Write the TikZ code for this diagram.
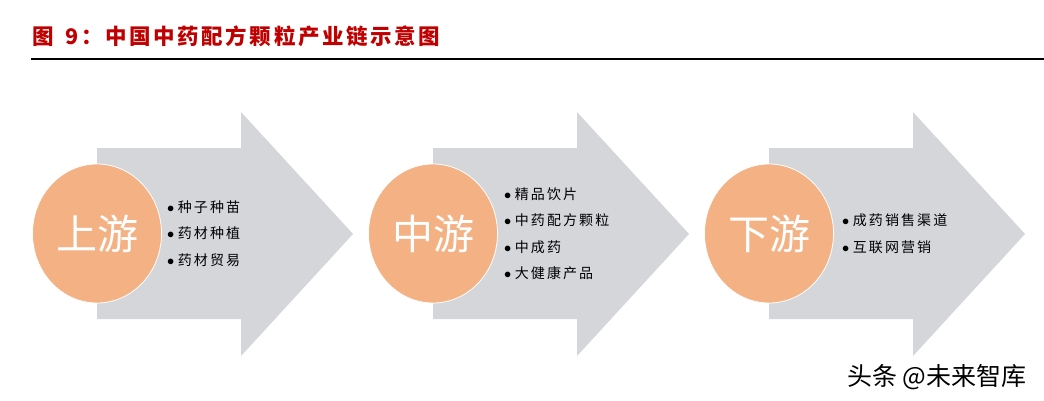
\documentclass[tikz,border=0pt]{standalone}
\usepackage{fontspec}
\usepackage{tikz}
\usetikzlibrary{
positioning,
shapes.geometric
}
\newfontfamily\cjk{Noto Sans CJK SC}
\newfontfamily\cjklist{Noto Sans CJK SC}[LetterSpace=15]
\newfontfamily\cjktitle{Noto Sans CJK SC}[LetterSpace=12]
\definecolor{titlered}{HTML}{C00000}
\definecolor{arrowgray}{HTML}{D5D6DA}
\definecolor{stageorange}{HTML}{F4B183}
\newcommand{\itemdot}{{\rmfamily$\bullet$}\hspace{3.5pt}}

\begin{document}
\begin{tikzpicture}[
x=1pt, y=-1pt,
stage/.style={
ellipse,
draw=white,
line width=0.8pt,
fill=stageorange,
minimum width=129pt,
minimum height=139pt,
inner sep=0pt,
text=white,
font=\cjk\fontsize{41}{41}\selectfont
},
items/.style={
align=left,
inner sep=0pt,
font=\cjklist\fontsize{14}{26.5}\selectfont
},
flow/.style={fill=arrowgray}
]
\useasboundingbox (0,0) rectangle (1044,400);
\fill[white] (0,0) rectangle (1044,400);

% title
\node[anchor=west, inner sep=0pt, text=titlered,
font=\cjktitle\bfseries\fontsize{21.5}{21.5}\selectfont] (title) at (32,36)
{图\hspace{12pt}9：中国中药配方颗粒产业链示意图};
\draw[line width=2pt] (31,59) -- (1044,59);

% big arrows
\fill[flow] (97,148) -- (241,148) -- (241,112) -- (353,234) -- (241,356) -- (241,319) -- (97,319) -- cycle;
\fill[flow] (433,148) -- (577,148) -- (577,112) -- (689,234) -- (577,356) -- (577,319) -- (433,319) -- cycle;
\fill[flow] (769,148) -- (913,148) -- (913,112) -- (1025,234) -- (913,356) -- (913,319) -- (769,319) -- cycle;

% stages
\node[stage] (up) at (97,233.5) {上游};
\node[stage] (mid) at (433,233.5) {中游};
\node[stage] (down) at (769,233.5) {下游};

\node[items, right=5pt of up] (upitems)
{\itemdot 种子种苗\\ \itemdot 药材种植\\ \itemdot 药材贸易};
\node[items, right=6pt of mid] (miditems)
{\itemdot 精品饮片\\ \itemdot 中药配方颗粒\\ \itemdot 中成药\\ \itemdot 大健康产品};
\node[items, right=8pt of down] (downitems)
{\itemdot 成药销售渠道\\ \itemdot 互联网营销};

% watermark
\node[inner sep=0pt, font=\cjk\fontsize{25}{25}\selectfont] (mark) at (937,377) {头条 @未来智库};

\end{tikzpicture}
\end{document}
